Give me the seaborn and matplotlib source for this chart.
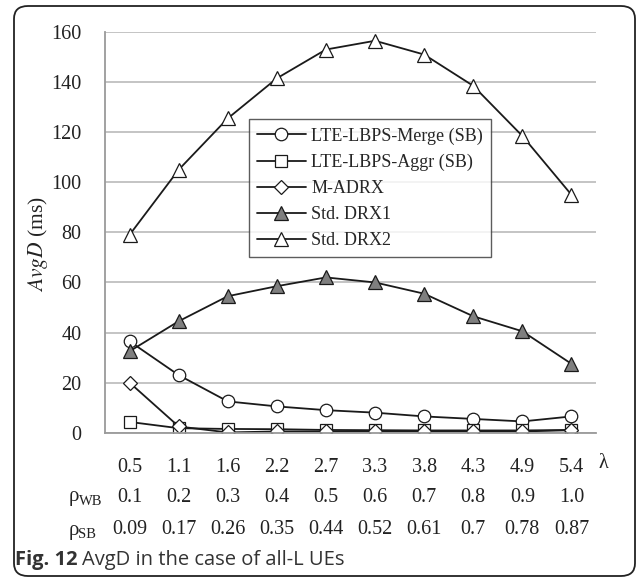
import numpy as np
import pandas as pd
import matplotlib
matplotlib.use("Agg")
import matplotlib.pyplot as plt
import matplotlib.transforms as mtransforms
from matplotlib.patches import FancyBboxPatch
import seaborn as sns

# -------------------
# Data
lambdas = ["0.5", "1.1", "1.6", "2.2", "2.7", "3.3", "3.8", "4.3", "4.9", "5.4"]
rho_wb = ["0.1", "0.2", "0.3", "0.4", "0.5", "0.6", "0.7", "0.8", "0.9", "1.0"]
rho_sb = ["0.09", "0.17", "0.26", "0.35", "0.44", "0.52", "0.61", "0.7", "0.78", "0.87"]

merge_sb = [36.5, 23, 12.5, 10.5, 9, 8, 6.5, 5.5, 4.5, 6.5]
aggr_sb = [4.3, 1.8, 1.5, 1.4, 1.1, 1.0, 0.9, 0.9, 0.9, 1.1]
m_adrx = [20, 2.5, 0.1, 0.5, 0.5, 0.5, 0.5, 0.5, 0.5, 1.0]
std_drx1 = [32.5, 44.5, 54.5, 58.5, 62, 60, 55.5, 46.5, 40.5, 27.5]
std_drx2 = [79, 105, 125.5, 141.5, 153, 156.5, 151, 138.5, 118.5, 95]

series = [
    ("LTE-LBPS-Merge (SB)", merge_sb, "o", "white", 9),
    ("LTE-LBPS-Aggr (SB)", aggr_sb, "s", "white", 8.5),
    ("M-ADRX", m_adrx, "D", "white", 7),
    ("Std. DRX1", std_drx1, "^", "#7f7f7f", 9.5),
    ("Std. DRX2", std_drx2, "^", "white", 9.5),
]

# -------------------
sns.set_style("white")
plt.rcParams['font.family'] = ['Liberation Serif', 'DejaVu Serif']
plt.rcParams['mathtext.fontset'] = 'stix'

W, H = 637, 579
fig = plt.figure(figsize=(W / 100, H / 100), dpi=100)
ax = fig.add_axes([105 / W, 1 - 432.7 / H, 491 / W, 400.7 / H])

x = np.arange(len(lambdas))
line_col = "#1a1a1a"
for name, vals, mk, fc, ms in series:
    sns.lineplot(x=x, y=vals, ax=ax, color=line_col, lw=1.3, marker=mk,
                 markersize=ms, markerfacecolor=fc, markeredgecolor=line_col,
                 markeredgewidth=0.9, label=name)

ax.set_xlim(-0.5, len(lambdas) - 0.5)
ax.set_ylim(0, 160)
ax.set_yticks(range(0, 161, 20))
ax.tick_params(axis='y', length=0, pad=17, labelsize=14.5, colors='#222222')
ax.yaxis.grid(True, color='#b4b4b4', lw=1.1)
ax.set_axisbelow(True)

ax.set_xticks(x)
ax.set_xticklabels(lambdas)
ax.set_xticks(np.arange(-0.5, len(lambdas)), minor=True)
ax.tick_params(axis='x', which='major', length=0, pad=18, labelsize=14.5, colors='#222222')
ax.tick_params(axis='x', which='minor', length=5, width=1.1, color='#9a9a9a')

for side in ['top', 'right']:
    ax.spines[side].set_visible(False)
for side in ['left', 'bottom']:
    ax.spines[side].set_color('#9a9a9a')
    ax.spines[side].set_linewidth(1.3)

ax.set_ylabel(r'$\mathit{AvgD}$ (ms)', fontsize=15.5, color='#222222')
ax.yaxis.set_label_coords((50 - 105) / 491, 0.47)
ax.set_xlabel("")

# extra rows under the x axis
trans = mtransforms.blended_transform_factory(ax.transData, ax.transAxes)
ax.text(len(lambdas) - 0.35, (432.7 - 463) / 400.7, "λ", transform=trans,
        ha='center', va='center', fontsize=14.5, color='#222222')
for row_vals, sub, ypix in [(rho_wb, "WB", 497), (rho_sb, "SB", 530)]:
    yy = (432.7 - ypix) / 400.7
    ax.text(-1.25, yy, "ρ", transform=trans, ha='left', va='center',
            fontsize=15, color='#222222')
    ax.text(-1.25 + 0.21, yy - 0.012, sub, transform=trans, ha='left', va='center',
            fontsize=10.5, color='#222222')
    for i, v in enumerate(row_vals):
        ax.text(i, yy, v, transform=trans, ha='center', va='center',
                fontsize=14.5, color='#222222')

leg = ax.legend(loc='upper left', bbox_to_anchor=(0.293, 0.782), fontsize=13,
                frameon=True, fancybox=False, handlelength=2.7, handletextpad=0.3,
                labelspacing=0.5, borderpad=0.45, borderaxespad=0)
leg.get_frame().set_edgecolor('#333333')
leg.get_frame().set_linewidth(1.0)

# outer rounded box and caption
box = FancyBboxPatch((14 / W, 3 / H), 621 / W, 570 / H,
                     boxstyle="round,pad=0,rounding_size=0.022",
                     transform=fig.transFigure, fill=False,
                     edgecolor='#222222', lw=1.3)
fig.patches.append(box)

t1 = fig.text(15 / W, 1 - 560 / H, "Fig. 12", fontsize=14.5, fontweight='bold',
              family='Open Sans', va='center', ha='left', color='#333333')
fig.canvas.draw()
bb = t1.get_window_extent()
fig.text((bb.x1 + 5) / W, 1 - 560 / H, "AvgD in the case of all-L UEs", fontsize=14.5,
         family='Open Sans', va='center', ha='left', color='#333333')

fig.savefig("out.png", dpi=100)
